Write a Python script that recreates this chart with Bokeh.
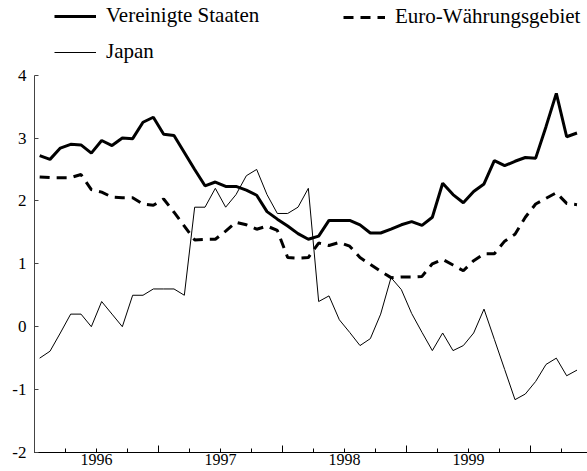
from bokeh.plotting import figure
from bokeh.models import Legend, LegendItem, FixedTicker, Range1d
from bokeh.embed import file_html
from bokeh.resources import INLINE

# ---- data (monthly, Jan 1996 - May 2000, % change y/y) ----
start_year = 1996
us = [2.72, 2.66, 2.84, 2.90, 2.89, 2.76, 2.96, 2.88, 3.00, 2.99, 3.25, 3.33,
      3.06, 3.04, 2.77, 2.50, 2.24, 2.30, 2.23, 2.23, 2.17, 2.09, 1.83, 1.71,
      1.60, 1.48, 1.39, 1.44, 1.69, 1.69, 1.69, 1.62, 1.49, 1.49, 1.55, 1.62,
      1.67, 1.61, 1.74, 2.28, 2.10, 1.97, 2.15, 2.27, 2.64, 2.56, 2.63, 2.69,
      2.68, 3.18, 3.71, 3.02, 3.08]
euro = [2.38, 2.37, 2.37, 2.37, 2.42, 2.18, 2.14, 2.06, 2.05, 2.05, 1.95, 1.93,
        2.03, 1.82, 1.60, 1.38, 1.39, 1.39, 1.52, 1.66, 1.62, 1.55, 1.60, 1.53,
        1.10, 1.09, 1.10, 1.33, 1.29, 1.34, 1.28, 1.10, 0.99, 0.88, 0.78, 0.79,
        0.79, 0.80, 1.00, 1.07, 0.98, 0.89, 1.05, 1.16, 1.16, 1.36, 1.47, 1.74,
        1.95, 2.04, 2.13, 1.96, 1.94]
japan = [-0.50, -0.39, -0.10, 0.20, 0.20, 0.00, 0.40, 0.20, 0.00, 0.50, 0.50, 0.60,
         0.60, 0.60, 0.50, 1.90, 1.90, 2.20, 1.90, 2.10, 2.40, 2.50, 2.10, 1.80,
         1.80, 1.90, 2.20, 0.40, 0.49, 0.11, -0.09, -0.30, -0.19, 0.20, 0.78, 0.59,
         0.21, -0.09, -0.38, -0.10, -0.38, -0.30, -0.10, 0.28, -0.20, -0.68, -1.16, -1.07,
         -0.87, -0.60, -0.50, -0.78, -0.69]
series_names = ["Vereinigte Staaten", "Euro-Währungsgebiet", "Japan"]
year_labels = ["1996", "1997", "1998", "1999"]
y_ticks = [-2, -1, 0, 1, 2, 3, 4]

x = [start_year + (i + 0.5) / 12 for i in range(len(us))]

FONT = "'Liberation Serif', 'Times New Roman', serif"
FRAME_H = 452          # frame spans whole top area; legend sits inside it
PX_PER_UNIT = 62.9     # vertical scale of the axis
Y_MIN, Y_MAX = -2, 4
y_top = Y_MIN + FRAME_H / PX_PER_UNIT

p = figure(frame_width=553, frame_height=FRAME_H,
           x_range=Range1d(start_year, start_year + 553 / 124),
           y_range=Range1d(Y_MIN, y_top),
           output_backend="svg", toolbar_location=None,
           min_border_left=34, min_border_right=0, min_border_top=0,
           min_border_bottom=0)
p.outline_line_color = None
p.xgrid.visible = False
p.ygrid.visible = False
p.background_fill_color = "white"
p.border_fill_color = "white"

r_us = p.line(x, us, line_width=3, line_color="black")
r_eu = p.line(x, euro, line_width=3, line_color="black", line_dash="10 7")
r_jp = p.line(x, japan, line_width=1, line_color="black")

# x axis: quarter ticks short, year ticks long, labels centered in year
quarters = [start_year + k * 0.25 for k in range(19)]
years = [start_year + k for k in range(5)]
overrides = {q: "" for q in quarters}
for i, lab in enumerate(year_labels):
    overrides[start_year + i + 0.5] = lab
xa = p.xaxis[0]
xa.ticker = FixedTicker(ticks=quarters, minor_ticks=years)
xa.major_label_overrides = overrides
xa.major_tick_in = 4
xa.major_tick_out = 0
xa.minor_tick_in = 7
xa.minor_tick_out = 0
xa.major_tick_line_color = "black"
xa.minor_tick_line_color = "black"
xa.axis_line_color = "black"
xa.major_label_standoff = 1
xa.major_label_text_font = FONT
xa.major_label_text_font_size = "16px"
xa.major_label_text_color = "black"

ya = p.yaxis[0]
ya.ticker = FixedTicker(ticks=y_ticks)
ya.bounds = (Y_MIN, Y_MAX)
ya.major_label_overrides = {t: str(t) for t in y_ticks}
ya.major_tick_in = 4
ya.major_tick_out = 0
ya.minor_tick_line_color = None
ya.axis_line_color = "#444444"
ya.major_tick_line_color = "#444444"
ya.major_label_standoff = 8
ya.major_label_text_font = FONT
ya.major_label_text_font_size = "17px"
ya.major_label_text_color = "black"

def make_legend(items, loc):
    lg = Legend(items=items, location=loc, orientation="vertical")
    lg.border_line_color = None
    lg.background_fill_alpha = 0
    lg.padding = 0
    lg.margin = 0
    lg.glyph_width = 42
    lg.glyph_height = 20
    lg.label_standoff = 10
    lg.label_height = 24
    lg.spacing = 11
    lg.label_text_font = FONT
    lg.label_text_font_size = "21px"
    lg.label_text_color = "black"
    return lg

leg1 = make_legend([LegendItem(label=series_names[0], renderers=[r_us]),
                    LegendItem(label=series_names[2], renderers=[r_jp])], (20, FRAME_H - 64))
leg2 = make_legend([LegendItem(label=series_names[1], renderers=[r_eu])], (309, FRAME_H - 29))
p.add_layout(leg1)
p.add_layout(leg2)

open("out.html", "w").write(file_html(p, INLINE))
